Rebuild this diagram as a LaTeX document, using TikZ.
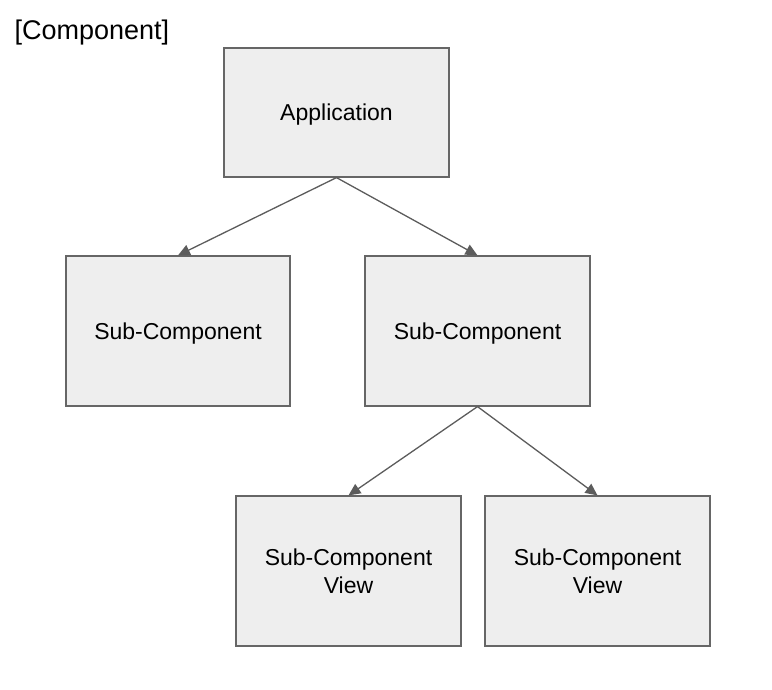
\documentclass[tikz,border=0pt]{standalone}
\usepackage{fontspec}
\setmainfont{Liberation Sans}
\usetikzlibrary{arrows.meta,positioning}
\definecolor{boxgray}{HTML}{EEEEEE}
\definecolor{edgegray}{HTML}{666666}
\newcommand{\boxfill}{boxgray}
\newcommand{\boxline}{edgegray}
\begin{document}
\begin{tikzpicture}[x=1pt,y=-1pt]
        \useasboundingbox (0,0) rectangle (772,690);
        %\tikzset{BoxStyle/.style = {draw, fill=white}}
        \tikzset{BoxStyle/.style = {draw=\boxline, fill=\boxfill, line width=1.2pt, inner sep=0pt,
                minimum width=225pt, minimum height=150pt, align=center, text depth=0pt,
                font=\fontsize{23}{28}\selectfont}}
        \tikzset{EdgeStyle/.style = {draw=\boxline!90!black, line width=1.3pt,
                -{Triangle[length=12pt,width=11pt]}}}
        \node[anchor=west, font=\fontsize{27}{32}\selectfont] (title) at (11,33) {[Component]};
        \node[BoxStyle, minimum height=129pt] (app) at (336.5,112.5) {Application};
        \node[BoxStyle, minimum width=224pt] (subA) at (178,331) {Sub-Component};
        \node[BoxStyle] (subB) at (477.5,331) {Sub-Component};
        \node[BoxStyle] (viewA) at (348.5,571) {Sub-Component\\View};
        \node[BoxStyle] (viewB) at (597.5,571) {Sub-Component\\View};
        \draw[EdgeStyle] (app.south) -- (subA.north);
        \draw[EdgeStyle] (app.south) -- (subB.north);
        \draw[EdgeStyle] (subB.south) -- (viewA.north);
        \draw[EdgeStyle] (subB.south) -- (viewB.north);
    \end{tikzpicture}
\end{document}
